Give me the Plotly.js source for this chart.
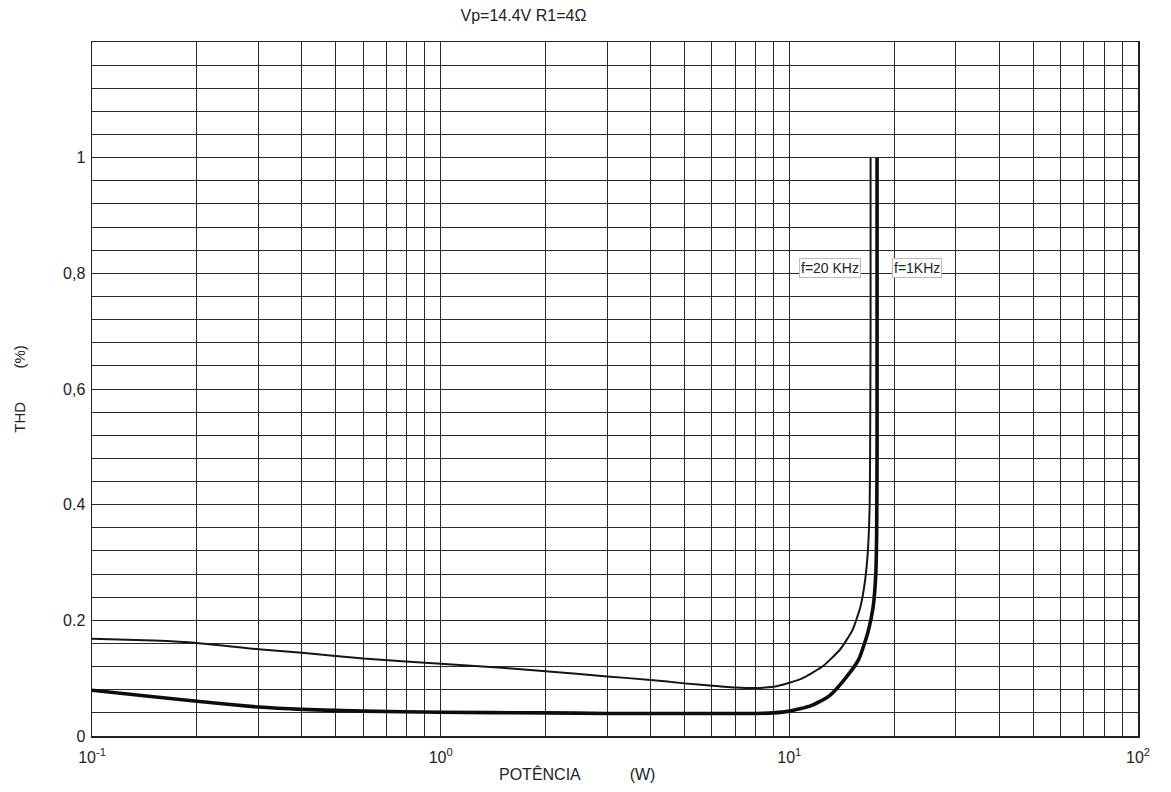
<!DOCTYPE html>
<html>
<head>
<meta charset="utf-8">
<script src="https://cdn.plot.ly/plotly-3.0.1.min.js"></script>
<style>html,body{margin:0;padding:0;background:#fff;}#chart{width:1171px;height:792px;}</style>
</head>
<body>
<div id="chart"></div>
<script>
// Power (W) and THD (%)
var powerHi = [0.1, 0.15, 0.2, 0.3, 0.4, 0.6, 1.0, 1.5, 2, 3, 4, 5, 6, 7, 8, 9, 10, 11, 12.5, 14, 15.2, 16.0, 16.5, 16.8, 17.0, 17.05, 17.1, 17.1];
var thdHi   = [0.168, 0.165, 0.161, 0.150, 0.144, 0.134, 0.125, 0.118, 0.112, 0.103, 0.097, 0.091, 0.087, 0.084, 0.083, 0.085, 0.092, 0.101, 0.121, 0.150, 0.184, 0.224, 0.270, 0.320, 0.400, 0.500, 0.700, 1.0];
var powerLo = [0.1, 0.15, 0.2, 0.3, 0.4, 0.6, 1, 2, 3, 5, 8, 9, 10, 11.5, 13.0, 14.4, 15.8, 16.8, 17.4, 17.7, 17.8, 17.85, 17.85];
var thdLo   = [0.079, 0.068, 0.060, 0.050, 0.046, 0.043, 0.041, 0.040, 0.039, 0.039, 0.039, 0.040, 0.043, 0.052, 0.069, 0.098, 0.132, 0.179, 0.224, 0.280, 0.350, 0.500, 1.0];
var seriesNames = ["f=20 KHz", "f=1KHz"];

var xLabelVals = [0.1, 1, 10, 100];
var xLabelText = ["10<sup>-1</sup>", "10<sup>0</sup>", "10<sup>1</sup>", "10<sup>2</sup>"];
var yLabelVals = [0, 0.2, 0.4, 0.6, 0.8, 1];
var yLabelText = ["0", "0.2", "0.4", "0,6", "0,8", "1"];

// minor grid positions: multiples 2..9 in each decade, every 0.04 on y
var xMinor = [];
[0.1, 1, 10].forEach(function(d){
  for (var m = 2; m <= 9; m++) xMinor.push(+(d*m).toPrecision(3));
});
var yMinor = [];
for (var i = 0; i <= 30; i++) yMinor.push(+(i*0.04).toFixed(2));

var FONT = "Liberation Sans, Arial, sans-serif";
var GRID = "#2a2a2a";

var traces = [
  {x: powerHi, y: thdHi, type: "scatter", mode: "lines", name: seriesNames[0],
   line: {color: "#151515", width: 2, shape: "spline", smoothing: 0.5}, showlegend: false},
  {x: powerLo, y: thdLo, type: "scatter", mode: "lines", name: seriesNames[1],
   line: {color: "#0d0d0d", width: 3.6, shape: "spline", smoothing: 0.5}, showlegend: false}
];

var layout = {
  width: 1171, height: 792,
  margin: {l: 92, r: 33, t: 42, b: 56},
  paper_bgcolor: "#fff", plot_bgcolor: "#fff",
  font: {family: FONT, color: "#222", size: 16},
  title: {text: "Vp=14.4V R1=4Ω", x: 0.447, xanchor: "center", xref: "container",
          y: 0.981, yanchor: "middle", yref: "container", font: {size: 16, color: "#222", family: FONT}},
  xaxis: {
    type: "log", range: [-1, 2],
    tickmode: "array", tickvals: xLabelVals, ticktext: xLabelText,
    minor: {tickmode: "array", tickvals: xMinor, showgrid: true, gridcolor: GRID, gridwidth: 1, ticks: ""},
    showgrid: true, gridcolor: GRID, gridwidth: 1,
    ticks: "", showline: true, mirror: true, linecolor: "#222", linewidth: 1.5,
    zeroline: false, tickfont: {size: 16, color: "#222"}, ticklabelstandoff: 6,
    title: {text: "POTÊNCIA&nbsp;&nbsp;&nbsp;&nbsp;&nbsp;&nbsp;&nbsp;&nbsp;&nbsp;&nbsp;&nbsp;(W)" + "&nbsp;".repeat(17),
            font: {size: 16, color: "#222"}, standoff: 4}
  },
  yaxis: {
    range: [0, 1.2],
    tickmode: "array", tickvals: yLabelVals, ticktext: yLabelText,
    minor: {tickmode: "array", tickvals: yMinor, showgrid: true, gridcolor: GRID, gridwidth: 1, ticks: ""},
    showgrid: true, gridcolor: GRID, gridwidth: 1,
    ticks: "", showline: true, mirror: true, linecolor: "#222", linewidth: 1.5,
    zeroline: false, tickfont: {size: 16, color: "#222"}, ticklabelstandoff: 2,
    title: {text: "THD&nbsp;&nbsp;&nbsp;&nbsp;&nbsp;&nbsp;&nbsp;&nbsp;(%)", font: {size: 15, color: "#222"}, standoff: 34}
  },
  annotations: [
    {x: 1.118, y: 0.81, xref: "x", yref: "y", text: seriesNames[0], showarrow: false,
     font: {size: 14, color: "#222"}, bgcolor: "#fff", bordercolor: "#bbb", borderwidth: 1, borderpad: 1},
    {x: 1.365, y: 0.81, xref: "x", yref: "y", text: seriesNames[1], showarrow: false,
     font: {size: 14, color: "#222"}, bgcolor: "#fff", bordercolor: "#bbb", borderwidth: 1, borderpad: 1}
  ]
};

Plotly.newPlot("chart", traces, layout, {displayModeBar: false, staticPlot: true});
</script>
</body>
</html>
